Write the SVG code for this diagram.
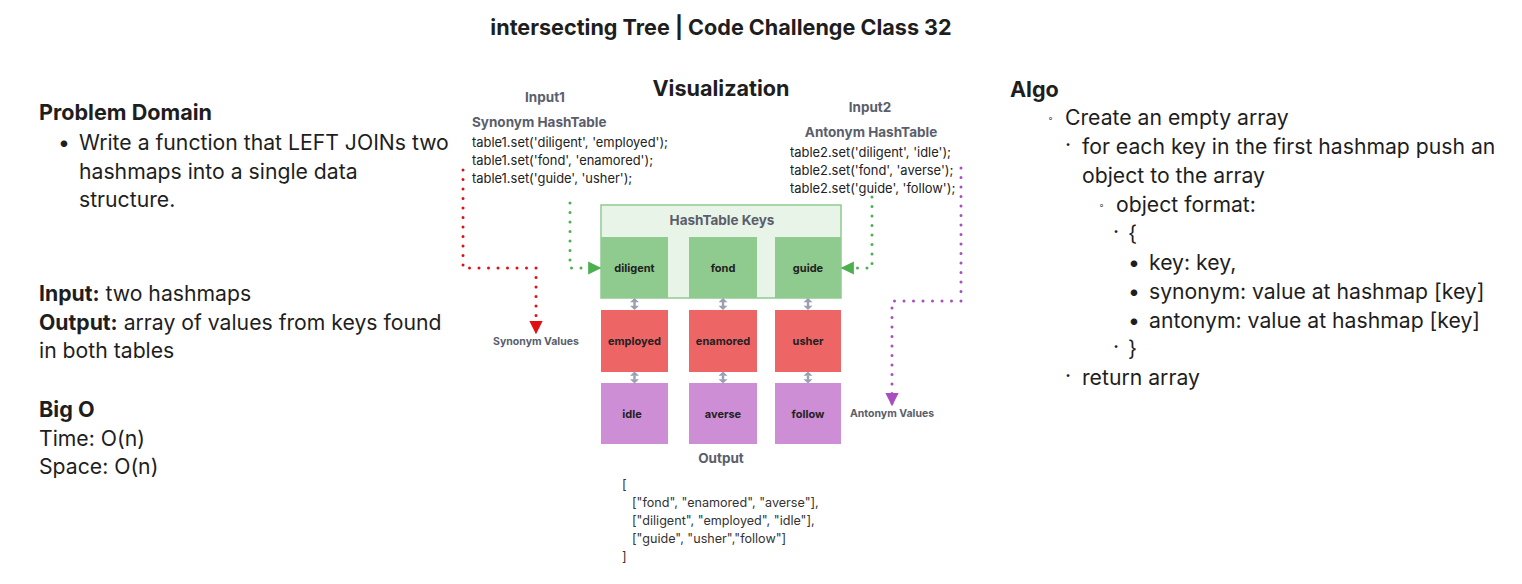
<svg xmlns="http://www.w3.org/2000/svg" width="1522" height="584" viewBox="0 0 1522 584">
<style>
text{font-family:Inter,"Noto Sans","Liberation Sans",sans-serif;fill:#1e1e1e}
.h{font-weight:700;font-size:21.6px}
.b{font-size:21.2px}
.lbl{font-weight:700;font-size:13.5px;fill:#5a5e6b}
.code{font-size:12.9px;fill:#222}
.out{font-size:12.6px;fill:#333}
.node{font-weight:700;font-size:11px;fill:#222;text-anchor:middle}
.small{font-weight:700;font-size:10.5px;fill:#5a5e6b}
.key{fill:#8fcb8f}
.syn{fill:#ee6566}
.ant{fill:#cd8ed6}
.gd{fill:#9aa0b0}
</style>
<defs>
<marker id="ar" viewBox="0 0 10 10" refX="9" refY="5" markerWidth="4.4" markerHeight="4.4" orient="auto"><path d="M0,0L10,5L0,10z" fill="#e01010"/></marker>
<marker id="ag" viewBox="0 0 10 10" refX="9" refY="5" markerWidth="4.4" markerHeight="4.4" orient="auto"><path d="M0,0L10,5L0,10z" fill="#4caf50"/></marker>
<marker id="ap" viewBox="0 0 10 10" refX="9" refY="5" markerWidth="4.4" markerHeight="4.4" orient="auto"><path d="M0,0L10,5L0,10z" fill="#a84ec0"/></marker>
<g id="dbl"><path d="M0,-6L4.5,-1.8H-4.5z M-4.5,1.8H4.5L0,6z" class="gd"/><rect x="-1.2" y="-2" width="2.4" height="4" class="gd"/></g>
</defs>

<text x="721" y="35" class="h" text-anchor="middle">intersecting Tree | Code Challenge Class 32</text>

<g id="left-text">
<text x="39" y="120" class="h">Problem Domain</text>
<text x="58" y="150" class="b">•</text>
<text x="79" y="150" class="b">Write a function that LEFT JOINs two</text>
<text x="79" y="179" class="b">hashmaps into a single data</text>
<text x="79" y="207" class="b">structure.</text>
<text x="39" y="301" class="b"><tspan font-weight="700">Input:</tspan> two hashmaps</text>
<text x="39" y="330" class="b"><tspan font-weight="700">Output:</tspan> array of values from keys found</text>
<text x="39" y="358" class="b">in both tables</text>
<text x="39" y="417" class="h">Big O</text>
<text x="39" y="446" class="b">Time: O(n)</text>
<text x="39" y="474" class="b">Space: O(n)</text>
</g>

<g id="algo-text">
<text x="1010" y="97" class="h">Algo</text>
<text x="1048" y="121" font-size="9" fill="#555">◦</text>
<text x="1065" y="125" class="b">Create an empty array</text>
<text x="1065" y="152" class="b">·</text>
<text x="1082" y="154" class="b">for each key in the first hashmap push an</text>
<text x="1082" y="183" class="b">object to the array</text>
<text x="1099" y="208" font-size="9" fill="#555">◦</text>
<text x="1116" y="212" class="b">object format:</text>
<text x="1113" y="239" class="b">·</text>
<text x="1128" y="241" class="b">{</text>
<text x="1128" y="270" class="b">•</text>
<text x="1149" y="270" class="b">key: key,</text>
<text x="1128" y="299" class="b">•</text>
<text x="1149" y="299" class="b">synonym: value at hashmap [key]</text>
<text x="1128" y="328" class="b">•</text>
<text x="1149" y="328" class="b">antonym: value at hashmap [key]</text>
<text x="1113" y="354" class="b">·</text>
<text x="1128" y="356" class="b">}</text>
<text x="1065" y="383" class="b">·</text>
<text x="1082" y="385" class="b">return array</text>
</g>

<text x="721" y="96" class="h" text-anchor="middle">Visualization</text>

<g id="input1">
<text x="545" y="102" class="lbl" text-anchor="middle">Input1</text>
<text x="472" y="127" class="lbl">Synonym HashTable</text>
<text x="472" y="147" class="code">table1.set('diligent', 'employed');</text>
<text x="472" y="165" class="code">table1.set('fond', 'enamored');</text>
<text x="472" y="183" class="code">table1.set('guide', 'usher');</text>
</g>

<g id="input2">
<text x="870" y="112" class="lbl" text-anchor="middle">Input2</text>
<text x="871" y="137" class="lbl" text-anchor="middle">Antonym HashTable</text>
<text x="790" y="157" class="code">table2.set('diligent', 'idle');</text>
<text x="790" y="175" class="code">table2.set('fond', 'averse');</text>
<text x="790" y="193" class="code">table2.set('guide', 'follow');</text>
</g>

<g id="hashtable-keys">
<rect x="601" y="205" width="240" height="93" fill="#e8f4e8" stroke="#8fcb8f" stroke-width="1.5"/>
<text x="722" y="225" class="lbl" text-anchor="middle" font-size="14">HashTable Keys</text>
</g>
<g id="key-diligent"><rect x="601" y="237" width="67" height="61" class="key"/><text x="634.5" y="272" class="node">diligent</text></g>
<g id="key-fond"><rect x="689" y="237" width="68" height="61" class="key"/><text x="723" y="272" class="node">fond</text></g>
<g id="key-guide"><rect x="775" y="237" width="66" height="61" class="key"/><text x="808" y="272" class="node">guide</text></g>

<g id="syn-employed"><rect x="601" y="310" width="67" height="62" class="syn"/><text x="634.5" y="345" class="node">employed</text></g>
<g id="syn-enamored"><rect x="689" y="310" width="68" height="62" class="syn"/><text x="723" y="345" class="node">enamored</text></g>
<g id="syn-usher"><rect x="775" y="310" width="66" height="62" class="syn"/><text x="808" y="345" class="node">usher</text></g>

<g id="ant-idle"><rect x="601" y="383" width="67" height="61" class="ant"/><text x="632" y="418" class="node">idle</text></g>
<g id="ant-averse"><rect x="689" y="383" width="68" height="61" class="ant"/><text x="723" y="418" class="node">averse</text></g>
<g id="ant-follow"><rect x="775" y="383" width="66" height="61" class="ant"/><text x="808" y="418" class="node">follow</text></g>

<g id="labels">
<text x="536" y="345" class="small" text-anchor="middle">Synonym Values</text>
<text x="892" y="417" class="small" text-anchor="middle">Antonym Values</text>
<text x="721" y="463" class="lbl" text-anchor="middle" font-size="13.5">Output</text>
</g>

<g id="output">
<text x="622" y="489" class="out">[</text>
<text x="632" y="507" class="out">["fond", "enamored", "averse"],</text>
<text x="632" y="525" class="out">["diligent", "employed", "idle"],</text>
<text x="632" y="543" class="out">["guide", "usher","follow"]</text>
<text x="622" y="561" class="out">]</text>
</g>

<g id="connectors">
<g fill="none" stroke-width="3" stroke-linecap="round" stroke-dasharray="0 9.5">
<path d="M463,170 V268 H536 V333" stroke="#e01010" marker-end="url(#ar)"/>
<path d="M570,203 V268 H600" stroke="#4caf50" marker-end="url(#ag)"/>
<path d="M872,197 V268 H842" stroke="#4caf50" marker-end="url(#ag)"/>
<path d="M961,168 V301 H892 V405" stroke="#a84ec0" marker-end="url(#ap)"/>
</g>
<use href="#dbl" x="634.5" y="304"/>
<use href="#dbl" x="723" y="304"/>
<use href="#dbl" x="808" y="304"/>
<use href="#dbl" x="634.5" y="377.5"/>
<use href="#dbl" x="723" y="377.5"/>
<use href="#dbl" x="808" y="377.5"/>
</g>
</svg>
